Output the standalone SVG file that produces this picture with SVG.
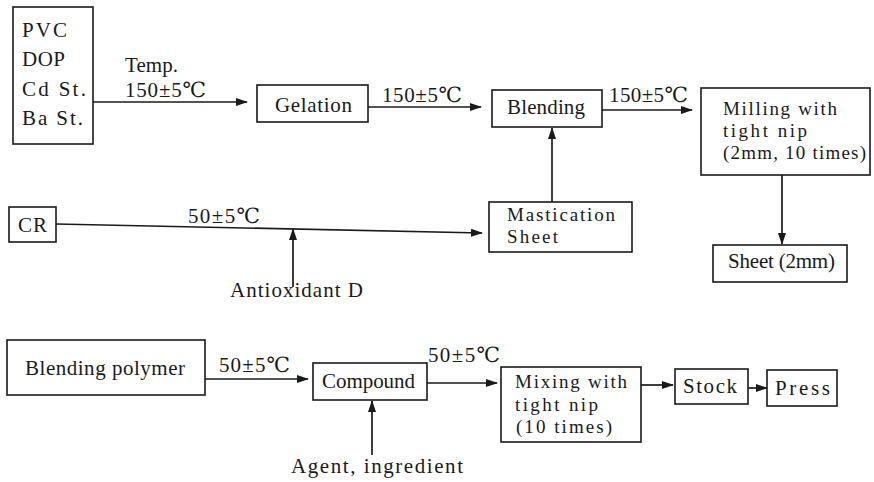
<svg xmlns="http://www.w3.org/2000/svg" width="874" height="482" viewBox="0 0 874 482">
<style>
  .box { fill: #ffffff; stroke: #1a1a1a; stroke-width: 1.6; }
  .ln { stroke: #1a1a1a; stroke-width: 1.7; fill: none; marker-end: url(#arr); }
</style>
<defs>
  <marker id="arr" markerWidth="12" markerHeight="8" refX="11" refY="4" orient="auto" markerUnits="userSpaceOnUse">
    <path d="M0,0 L12,4 L0,8 Z" fill="#1a1a1a"/>
  </marker>
</defs>
<rect width="874" height="482" fill="#ffffff"/>

<g id="connectors">
  <line class="ln" x1="93" y1="102" x2="247" y2="102"/>
  <line class="ln" x1="368" y1="107" x2="481" y2="107"/>
  <line class="ln" x1="602" y1="110" x2="692" y2="110"/>
  <line class="ln" x1="782" y1="175" x2="782" y2="244"/>
  <line class="ln" x1="56" y1="224" x2="482" y2="233"/>
  <line class="ln" x1="293" y1="287" x2="293" y2="229"/>
  <line class="ln" x1="552" y1="202" x2="552" y2="128"/>
  <line class="ln" x1="205" y1="379" x2="308" y2="379"/>
  <line class="ln" x1="372" y1="455" x2="372" y2="401"/>
  <line class="ln" x1="427" y1="383" x2="497" y2="383"/>
  <line class="ln" x1="641" y1="385" x2="673" y2="385"/>
  <line class="ln" x1="748" y1="388" x2="767" y2="388"/>
  <g font-family="Liberation Serif, DejaVu Serif, serif" font-size="21" fill="#1a1a1a">
    <text x="125" y="72" textLength="53" lengthAdjust="spacing">Temp.</text>
    <text x="125" y="97" textLength="81" lengthAdjust="spacing">150±5℃</text>
    <text x="382" y="102" textLength="80" lengthAdjust="spacing">150±5℃</text>
    <text x="609" y="102" textLength="79" lengthAdjust="spacing">150±5℃</text>
    <text x="188" y="223" textLength="72" lengthAdjust="spacing">50±5℃</text>
    <text x="230" y="297" textLength="133" lengthAdjust="spacing">Antioxidant D</text>
    <text x="219" y="372" textLength="71" lengthAdjust="spacing">50±5℃</text>
    <text x="291" y="473" textLength="172" lengthAdjust="spacing">Agent, ingredient</text>
    <text x="428" y="362" textLength="72" lengthAdjust="spacing">50±5℃</text>
  </g>
</g>

<g id="node-pvc" font-family="Liberation Serif, DejaVu Serif, serif" font-size="21" fill="#1a1a1a">
  <rect class="box" x="13" y="7" width="80" height="137"/>
  <text x="22" y="37" textLength="45" lengthAdjust="spacing">PVC</text>
  <text x="22" y="66" textLength="43" lengthAdjust="spacing">DOP</text>
  <text x="22" y="96" textLength="64" lengthAdjust="spacing">Cd St.</text>
  <text x="22" y="125" textLength="61" lengthAdjust="spacing">Ba St.</text>
</g>

<g id="node-gelation" font-family="Liberation Serif, DejaVu Serif, serif" font-size="21" fill="#1a1a1a">
  <rect class="box" x="257" y="85" width="111" height="37"/>
  <text x="275" y="112" textLength="77" lengthAdjust="spacing">Gelation</text>
</g>

<g id="node-blending" font-family="Liberation Serif, DejaVu Serif, serif" font-size="21" fill="#1a1a1a">
  <rect class="box" x="492" y="90" width="110" height="37"/>
  <text x="507" y="114" textLength="78" lengthAdjust="spacing">Blending</text>
</g>

<g id="node-milling" font-family="Liberation Serif, DejaVu Serif, serif" font-size="19" fill="#1a1a1a">
  <rect class="box" x="701" y="88" width="169" height="87"/>
  <text x="723" y="115" textLength="114" lengthAdjust="spacing">Milling with</text>
  <text x="723" y="137" textLength="84" lengthAdjust="spacing">tight nip</text>
  <text x="723" y="159" textLength="143" lengthAdjust="spacing">(2mm, 10 times)</text>
</g>

<g id="node-sheet" font-family="Liberation Serif, DejaVu Serif, serif" font-size="21" fill="#1a1a1a">
  <rect class="box" x="713" y="245" width="134" height="37"/>
  <text x="728" y="268" textLength="107" lengthAdjust="spacing">Sheet (2mm)</text>
</g>

<g id="node-cr" font-family="Liberation Serif, DejaVu Serif, serif" font-size="21" fill="#1a1a1a">
  <rect class="box" x="9" y="207" width="47" height="35"/>
  <text x="18" y="232" textLength="29" lengthAdjust="spacing">CR</text>
</g>

<g id="node-mastication" font-family="Liberation Serif, DejaVu Serif, serif" font-size="19" fill="#1a1a1a">
  <rect class="box" x="489" y="202" width="143" height="50"/>
  <text x="507" y="221" textLength="108" lengthAdjust="spacing">Mastication</text>
  <text x="507" y="243" textLength="51" lengthAdjust="spacing">Sheet</text>
</g>

<g id="node-blending-polymer" font-family="Liberation Serif, DejaVu Serif, serif" font-size="21" fill="#1a1a1a">
  <rect class="box" x="7" y="340" width="198" height="55"/>
  <text x="25" y="375" textLength="160" lengthAdjust="spacing">Blending polymer</text>
</g>

<g id="node-compound" font-family="Liberation Serif, DejaVu Serif, serif" font-size="21" fill="#1a1a1a">
  <rect class="box" x="313" y="363" width="114" height="37"/>
  <text x="322" y="388" textLength="93" lengthAdjust="spacing">Compound</text>
</g>

<g id="node-mixing" font-family="Liberation Serif, DejaVu Serif, serif" font-size="19" fill="#1a1a1a">
  <rect class="box" x="501" y="367" width="140" height="75"/>
  <text x="515" y="388" textLength="112" lengthAdjust="spacing">Mixing with</text>
  <text x="515" y="410.5" textLength="83" lengthAdjust="spacing">tight nip</text>
  <text x="516" y="433" textLength="96" lengthAdjust="spacing">(10 times)</text>
</g>

<g id="node-stock" font-family="Liberation Serif, DejaVu Serif, serif" font-size="21" fill="#1a1a1a">
  <rect class="box" x="675" y="369" width="73" height="35"/>
  <text x="683" y="393" textLength="54" lengthAdjust="spacing">Stock</text>
</g>

<g id="node-press" font-family="Liberation Serif, DejaVu Serif, serif" font-size="21" fill="#1a1a1a">
  <rect class="box" x="767" y="370" width="70" height="36"/>
  <text x="775" y="395" textLength="55" lengthAdjust="spacing">Press</text>
</g>
</svg>
